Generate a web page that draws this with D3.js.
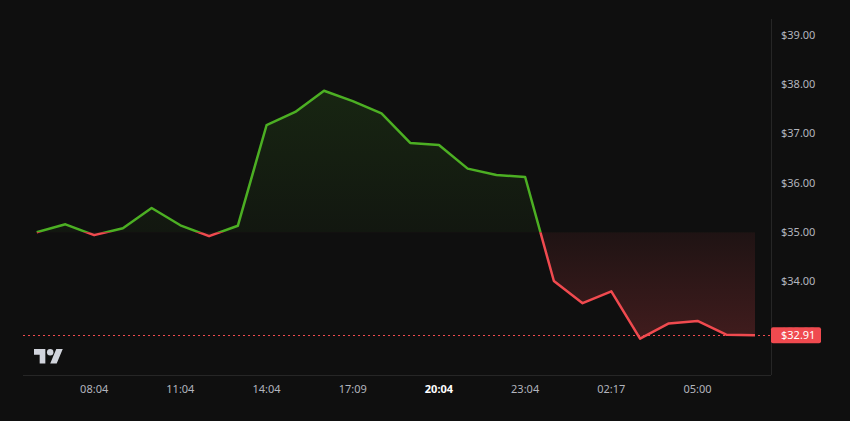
<!DOCTYPE html>
<html><head><meta charset="utf-8">
<script src="https://cdn.jsdelivr.net/npm/d3@7"></script>
<style>
html,body{margin:0;padding:0;background:#0f0f0f;}
svg{display:block;}
</style></head>
<body>
<svg id="chart" width="850" height="421"></svg>
<script>
// ---- data ----
const times = ["06:04","07:04","08:04","09:04","10:04","11:04","12:04","13:04","14:04","15:04","16:04","17:09","18:04","19:04","20:04","21:04","22:04","23:04","00:04","01:04","02:17","03:04","04:04","05:00","06:04","07:04"];
const prices = [35.00,35.16,34.94,35.08,35.49,35.14,34.92,35.13,37.17,37.44,37.87,37.66,37.41,36.81,36.77,36.29,36.16,36.12,34.01,33.56,33.80,32.84,33.15,33.20,32.92,32.91];
const baseline = 35.00;
const yTicks = [33,34,35,36,37,38,39];
const xTickIdx = [2,5,8,11,14,17,20,23];
const boldTick = 14;
const lastPrice = 32.91;

const W = 850, H = 421;
const plot = {left: 23, right: 771, top: 19, bottom: 375};
const svg = d3.select("#chart");
const bg = "#0f0f0f";
svg.append("rect").attr("width", W).attr("height", H).attr("fill", bg);

const x = d3.scaleLinear().domain([0, prices.length - 1]).range([36.7, 755]);
const y = d3.scaleLinear().domain([33, 39]).range([330.8, 35]);
const by = y(baseline);

const defs = svg.append("defs");
const gGreen = defs.append("linearGradient").attr("id", "gGreen").attr("gradientUnits", "userSpaceOnUse")
  .attr("x1", 0).attr("x2", 0).attr("y1", y(d3.max(prices))).attr("y2", by);
gGreen.append("stop").attr("offset", 0).attr("stop-color", "rgb(76,175,35)").attr("stop-opacity", 0.14);
gGreen.append("stop").attr("offset", 1).attr("stop-color", "rgb(76,175,35)").attr("stop-opacity", 0.05);
const gRed = defs.append("linearGradient").attr("id", "gRed").attr("gradientUnits", "userSpaceOnUse")
  .attr("x1", 0).attr("x2", 0).attr("y1", by).attr("y2", y(d3.min(prices)));
gRed.append("stop").attr("offset", 0).attr("stop-color", "rgb(240,74,79)").attr("stop-opacity", 0.07);
gRed.append("stop").attr("offset", 1).attr("stop-color", "rgb(240,74,79)").attr("stop-opacity", 0.22);

defs.append("clipPath").attr("id", "cTop").append("rect")
  .attr("x", 0).attr("y", 0).attr("width", W).attr("height", by);
defs.append("clipPath").attr("id", "cBot").append("rect")
  .attr("x", 0).attr("y", by).attr("width", W).attr("height", H - by);
defs.append("clipPath").attr("id", "cLbl").append("rect")
  .attr("x", 771).attr("y", 0).attr("width", 79).attr("height", y(lastPrice) - 8);

const area = d3.area().x((d, i) => x(i)).y0(by).y1(d => y(d));
const line = d3.line().x((d, i) => x(i)).y(d => y(d));

svg.append("path").datum(prices).attr("d", area).attr("fill", "url(#gGreen)").attr("clip-path", "url(#cTop)");
svg.append("path").datum(prices).attr("d", area).attr("fill", "url(#gRed)").attr("clip-path", "url(#cBot)");

// frame lines
svg.append("line").attr("x1", plot.right + 0.5).attr("x2", plot.right + 0.5).attr("y1", plot.top).attr("y2", plot.bottom)
  .attr("stroke", "#262626").attr("stroke-width", 1);
svg.append("line").attr("x1", plot.left).attr("x2", plot.right).attr("y1", plot.bottom + 0.5).attr("y2", plot.bottom + 0.5)
  .attr("stroke", "#262626").attr("stroke-width", 1);

// last price dotted line
svg.append("line").attr("x1", plot.left).attr("x2", plot.right).attr("y1", Math.round(y(lastPrice)) + 0.5).attr("y2", Math.round(y(lastPrice)) + 0.5)
  .attr("stroke", "#f04a4f").attr("stroke-width", 1).attr("stroke-dasharray", "2,3");

svg.append("path").datum(prices).attr("d", line).attr("fill", "none").attr("stroke", "rgb(76,175,35)")
  .attr("stroke-width", 2.5).attr("stroke-linejoin", "round").attr("clip-path", "url(#cTop)");
svg.append("path").datum(prices).attr("d", line).attr("fill", "none").attr("stroke", "#f04a4f")
  .attr("stroke-width", 2.5).attr("stroke-linejoin", "round").attr("clip-path", "url(#cBot)");

// y axis labels ($33.00 mostly hidden behind the last-price label, as in the original)
const font = "'Noto Sans', sans-serif";
svg.append("g").selectAll("text").data(yTicks).join("text")
  .attr("x", 781).attr("y", d => y(d)).attr("dy", "0.35em")
  .attr("clip-path", d => Math.abs(y(d) - y(lastPrice)) < 14 ? "url(#cLbl)" : null)
  .attr("fill", "#b2b5be").attr("font-family", font).attr("font-size", 11)
  .text(d => "$" + d.toFixed(2));

// last price label
const ly = y(lastPrice);
svg.append("rect").attr("x", 771).attr("y", ly - 8).attr("width", 50).attr("height", 16).attr("rx", 2)
  .attr("fill", "#f04a4f");
svg.append("text").attr("x", 781).attr("y", ly).attr("dy", "0.35em")
  .attr("fill", "#ffffff").attr("font-family", font).attr("font-size", 11).text("$" + lastPrice.toFixed(2));

// x axis labels
svg.append("g").selectAll("text").data(xTickIdx).join("text")
  .attr("x", d => x(d)).attr("y", 389).attr("dy", "0.35em").attr("text-anchor", "middle")
  .attr("fill", d => d === boldTick ? "#ffffff" : "#b2b5be")
  .attr("font-weight", d => d === boldTick ? "bold" : "normal")
  .attr("font-family", font).attr("font-size", 11)
  .text(d => times[d]);

// TradingView logo
const logo = svg.append("g").attr("transform", "translate(34,345.8) scale(0.81)").attr("fill", "#d1d4dc");
logo.append("path").attr("d", "M14 22H7V11H0V4h14v18zM28 22h-8l7.5-18h8L28 22z");
logo.append("circle").attr("cx", 20).attr("cy", 8).attr("r", 4);
</script>
</body></html>
